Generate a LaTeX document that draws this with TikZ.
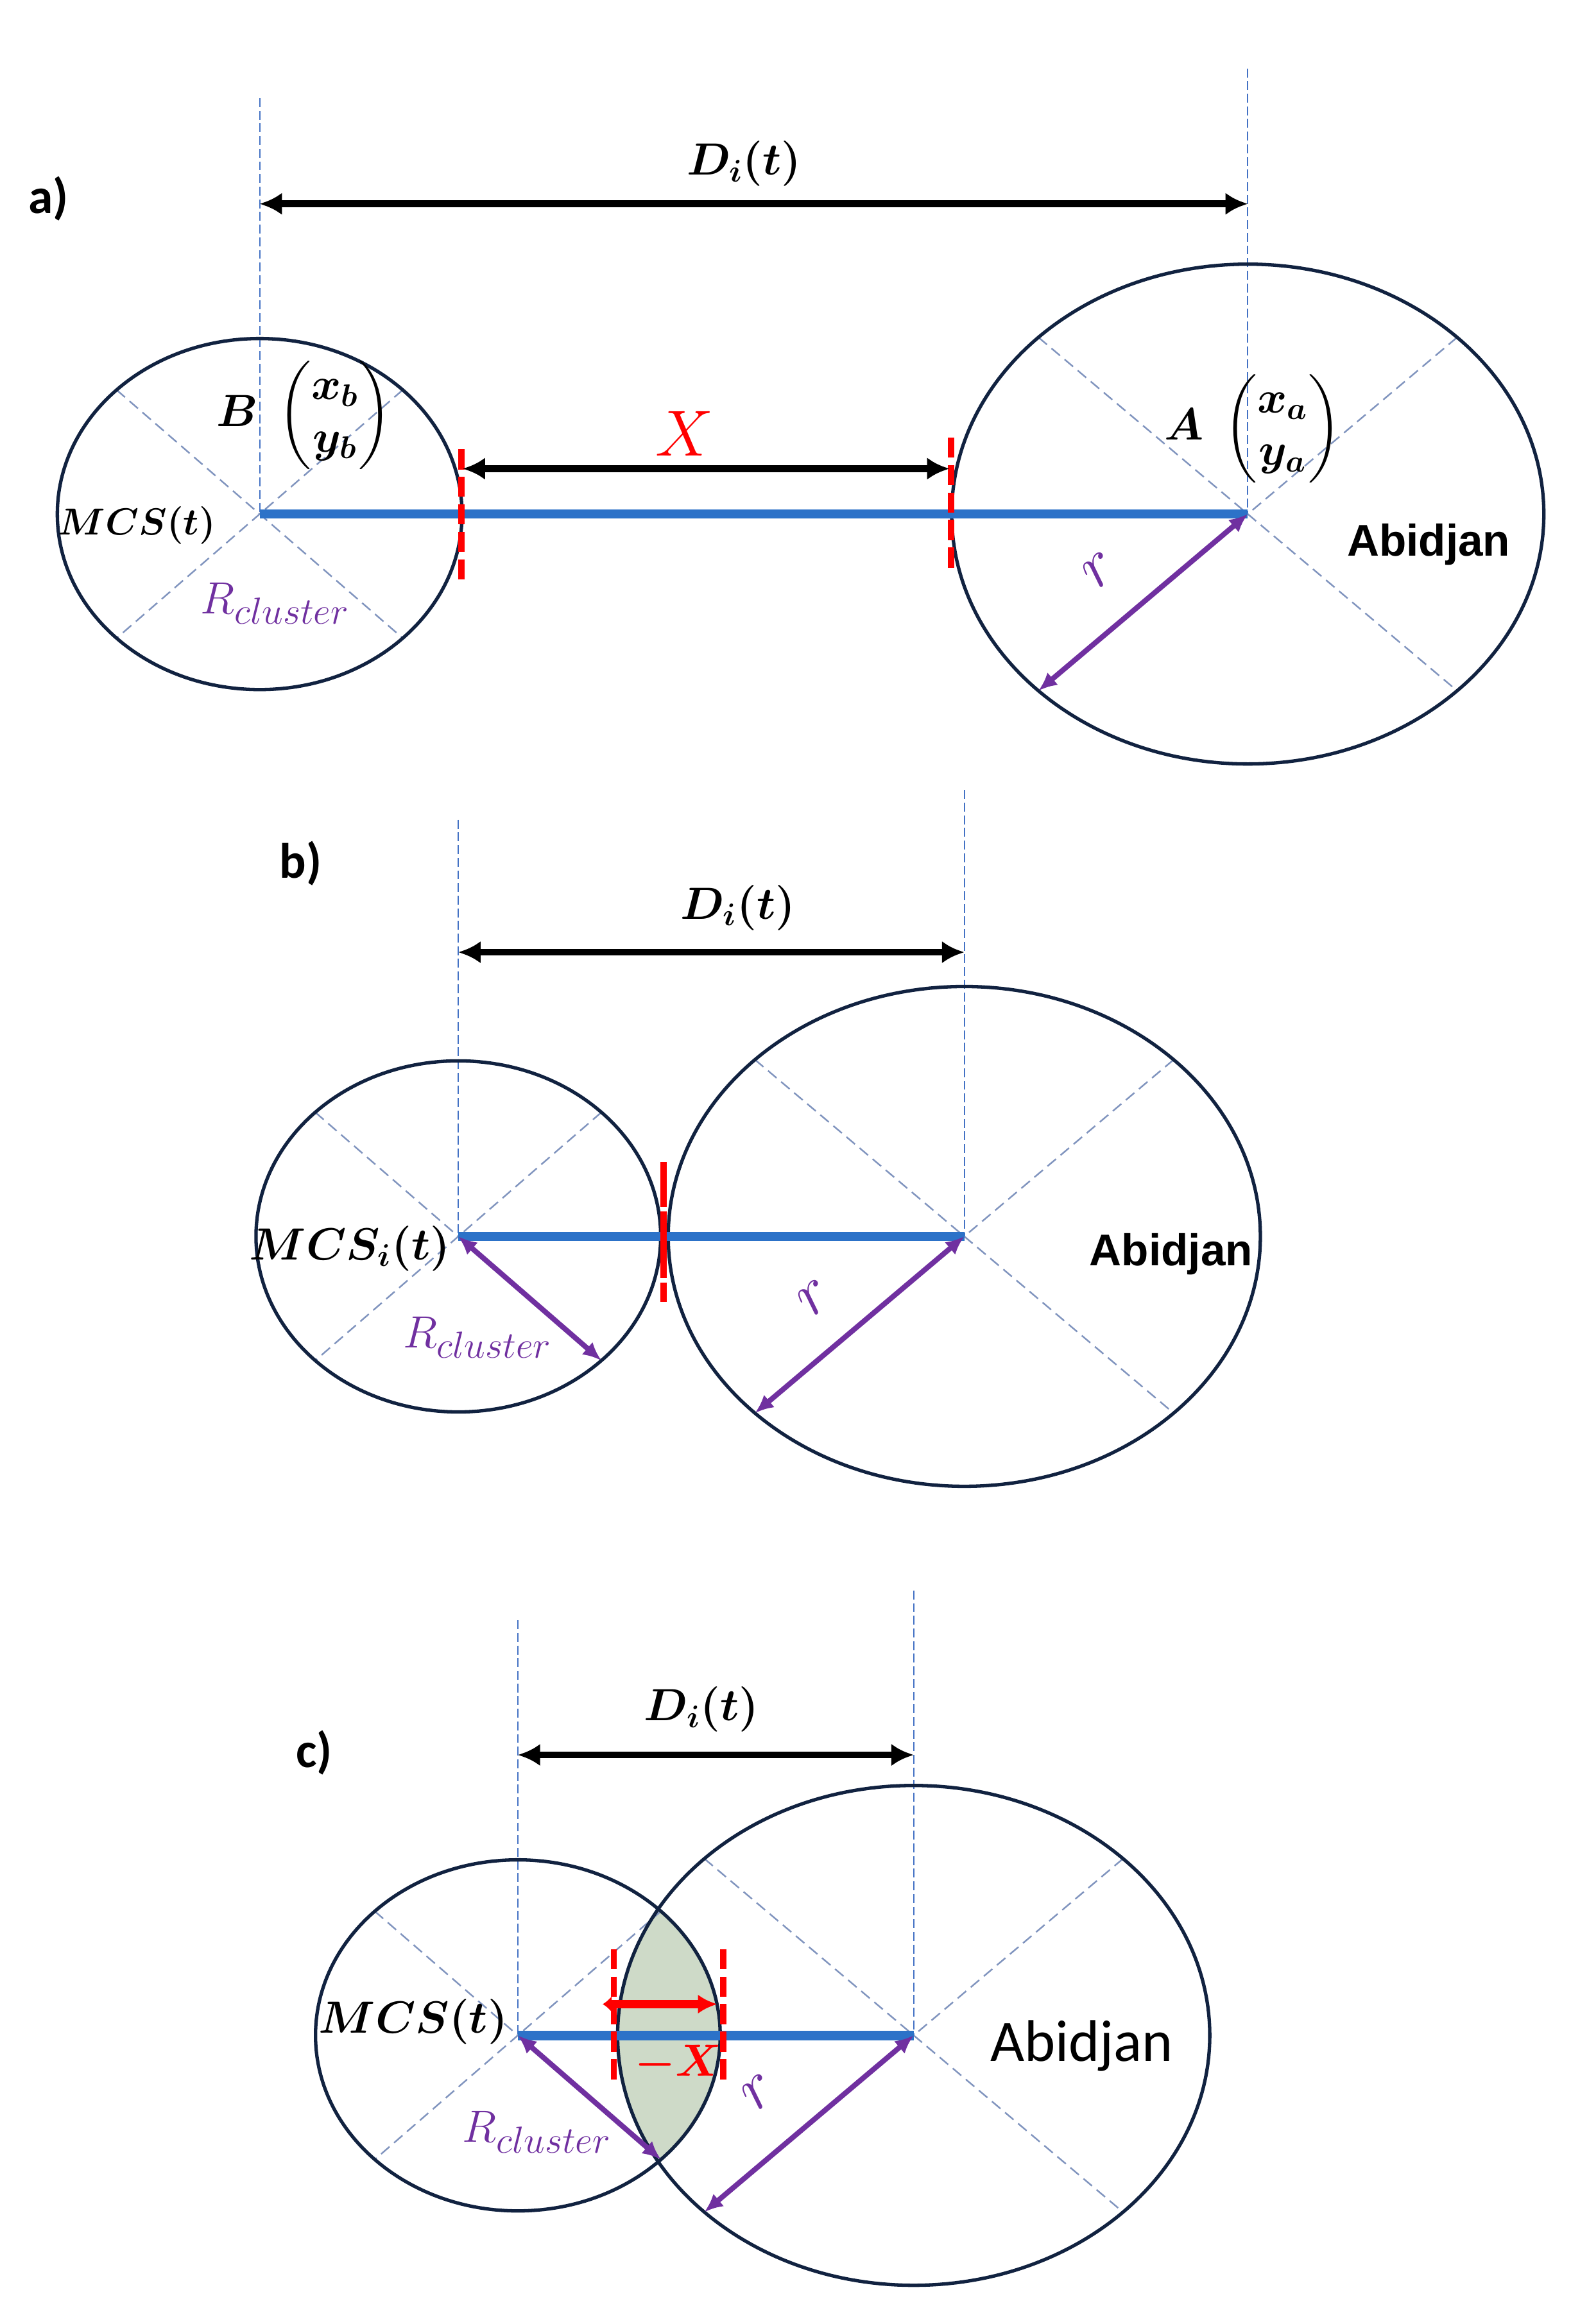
\documentclass[tikz,border=0pt]{standalone}
\usepackage{amsmath}
\usepackage{bm}
\usepackage{fontspec}
\newfontfamily\arialfont{Liberation Sans}
\newfontfamily\calfont{Carlito}
\usetikzlibrary{arrows.meta,calc,shapes.geometric}
\definecolor{ellcol}{RGB}{17,34,64}
\definecolor{diagcol}{RGB}{128,148,190}
\definecolor{vcol}{RGB}{68,114,196}
\definecolor{bluecol}{RGB}{44,114,200}
\definecolor{purp}{RGB}{112,48,160}
\definecolor{lenscol}{RGB}{206,218,200}
\begin{document}
\begin{tikzpicture}[x=0.02cm,y=-0.02cm,
  ell/.style={ellipse, draw=ellcol, line width=1.3pt, inner sep=0pt},
  smallell/.style={ell, minimum width=5.44cm, minimum height=4.72cm},
  largeell/.style={ell, minimum width=7.96cm, minimum height=6.72cm},
  diag/.style={draw=diagcol, line width=0.6pt, dash pattern=on 0.15cm off 0.08cm},
  vref/.style={draw=vcol, line width=0.5pt, dash pattern=on 0.12cm off 0.05cm},
  bluel/.style={draw=bluecol, line width=3.6pt},
  darr/.style={draw=black, line width=2.6pt, {Latex[length=0.3cm,width=0.3cm]}-{Latex[length=0.3cm,width=0.3cm]}},
  parr/.style={draw=purp, line width=2pt, {Latex[length=0.25cm,width=0.22cm]}-{Latex[length=0.25cm,width=0.22cm]}},
  rdash/.style={draw=red, line width=2.4pt, dash pattern=on 0.27cm off 0.1cm},
  rarr/.style={draw=red, line width=3.3pt, {Latex[length=0.12cm,width=0.22cm]}-{Latex[length=0.26cm,width=0.26cm]}},
  lbl/.style={inner sep=0pt, font=\calfont\bfseries\fontsize{19}{22}\selectfont},
  abib/.style={inner sep=0pt, anchor=base, font=\arialfont\bfseries\fontsize{17}{20}\selectfont},
  abir/.style={inner sep=0pt, anchor=base, font=\calfont\fontsize{22.5}{26}\selectfont},
  mth/.style={inner sep=0pt, font=\fontsize{15}{18}\selectfont},
  mtp/.style={inner sep=0pt, font=\fontsize{17}{20}\selectfont},
  mthb/.style={inner sep=0pt, font=\fontsize{16.5}{20}\selectfont},
  rcl/.style={inner sep=0pt, text=purp, font=\fontsize{19}{22}\selectfont},
  rlab/.style={inner sep=0pt, text=purp, rotate=40, font=\fontsize{29}{32}\selectfont}
]
\useasboundingbox (0,0) rectangle (1055.7,1562);

% ================= panel a =================
\coordinate (aL) at (174.5,345.5);
\coordinate (aR) at (838.5,345.5);
\coordinate (aLt) at (174.5,66);
\coordinate (aRt) at (838.5,46);
\draw[vref] (aLt) -- (aL);
\draw[vref] (aRt) -- (aR);
\draw[diag] ($(aL)+(45:2.72cm and 2.36cm)$) -- ($(aL)+(225:2.72cm and 2.36cm)$);
\draw[diag] ($(aL)+(135:2.72cm and 2.36cm)$) -- ($(aL)+(315:2.72cm and 2.36cm)$);
\draw[diag] ($(aR)+(45:3.98cm and 3.36cm)$) -- ($(aR)+(225:3.98cm and 3.36cm)$);
\draw[diag] ($(aR)+(135:3.98cm and 3.36cm)$) -- ($(aR)+(315:3.98cm and 3.36cm)$);
\node[smallell] (aLe) at (aL) {};
\node[largeell] (aRe) at (aR) {};
\draw[bluel] (aL) -- (aR);
\coordinate (aX1t) at (310,302); \coordinate (aX1b) at (310,393);
\coordinate (aX2t) at (639,294); \coordinate (aX2b) at (639,386);
\draw[rdash] (aX1t) -- (aX1b);
\draw[rdash] (aX2t) -- (aX2b);
\coordinate (aXa) at (311,315); \coordinate (aXb) at (638,315);
\draw[darr] (aXa) -- (aXb);
\coordinate (aDa) at (174.5,137); \coordinate (aDb) at (838.5,137);
\draw[darr] (aDa) -- (aDb);
\coordinate (aRp) at ($(aR)+(225:3.98cm and 3.36cm)$);
\draw[parr] (aR) -- (aRp);
\node[lbl] (alab) at (32.7,133.5) {a)};
\node[mthb] (aD) at (500,110) {$\bm{D_i(t)}$};
\node[inner sep=0pt, text=red, font=\fontsize{26}{28}\selectfont] (aXl) at (460,291.5) {$X$};
\node[mtp] (aB) at (204.5,279) {$\bm{B}\;\begin{pmatrix}\bm{x_b}\\ \bm{y_b}\end{pmatrix}$};
\node[mtp] (aA) at (842,288) {$\bm{A}\;\begin{pmatrix}\bm{x_a}\\ \bm{y_a}\end{pmatrix}$};
\node[mth] (aM) at (92,353) {$\bm{MCS(t)}$};
\node[rcl] (aRc) at (185,405.5) {$R_{cluster}$};
\node[rlab] (ar) at (739,383) {$r$};
\node[abib] (aAb) at (960,373.6) {Abidjan};

% ================= panel b =================
\coordinate (bL) at (308,831);
\coordinate (bR) at (648,831);
\coordinate (bLt) at (308,551);
\coordinate (bRt) at (648,531);
\draw[vref] (bLt) -- (bL);
\draw[vref] (bRt) -- (bR);
\draw[diag] ($(bL)+(45:2.72cm and 2.36cm)$) -- ($(bL)+(225:2.72cm and 2.36cm)$);
\draw[diag] ($(bL)+(135:2.72cm and 2.36cm)$) -- ($(bL)+(315:2.72cm and 2.36cm)$);
\draw[diag] ($(bR)+(45:3.98cm and 3.36cm)$) -- ($(bR)+(225:3.98cm and 3.36cm)$);
\draw[diag] ($(bR)+(135:3.98cm and 3.36cm)$) -- ($(bR)+(315:3.98cm and 3.36cm)$);
\node[smallell] (bLe) at (bL) {};
\node[largeell] (bRe) at (bR) {};
\draw[bluel] (bL) -- (bR);
\coordinate (bXt) at (446,781); \coordinate (bXb) at (446,875);
\draw[draw=red, line width=2.4pt, dash pattern=on 0.6cm off 0.06cm on 0.9cm off 0.06cm on 0.5cm] (bXt) -- (bXb);
\coordinate (bDa) at (308,640); \coordinate (bDb) at (648,640);
\draw[darr] (bDa) -- (bDb);
\coordinate (bLp) at ($(bL)+(315:2.72cm and 2.36cm)$);
\coordinate (bRp) at ($(bR)+(225:3.98cm and 3.36cm)$);
\draw[parr] (bL) -- (bLp);
\draw[parr] (bR) -- (bRp);
\node[lbl] (blab) at (202,580.5) {b)};
\node[mthb] (bD) at (496,610) {$\bm{D_i(t)}$};
\node[mthb] (bM) at (235,839) {$\bm{MCS_i(t)}$};
\node[rcl] (bRc) at (321,899) {$R_{cluster}$};
\node[rlab] (br) at (547.5,872) {$r$};
\node[abib] (bAb) at (787,850.6) {Abidjan};

% ================= panel c =================
\coordinate (cL) at (348,1368);
\coordinate (cR) at (614,1368);
\coordinate (cLt) at (348,1089);
\coordinate (cRt) at (614,1069);
\draw[vref] (cLt) -- (cL);
\draw[vref] (cRt) -- (cR);
\begin{scope}
  \clip (cL) ellipse [x radius=2.72cm, y radius=2.36cm];
  \fill[lenscol] (cR) ellipse [x radius=3.98cm, y radius=3.36cm];
\end{scope}
\draw[diag] ($(cL)+(45:2.72cm and 2.36cm)$) -- ($(cL)+(225:2.72cm and 2.36cm)$);
\draw[diag] ($(cL)+(135:2.72cm and 2.36cm)$) -- ($(cL)+(315:2.72cm and 2.36cm)$);
\draw[diag] ($(cR)+(45:3.98cm and 3.36cm)$) -- ($(cR)+(225:3.98cm and 3.36cm)$);
\draw[diag] ($(cR)+(135:3.98cm and 3.36cm)$) -- ($(cR)+(315:3.98cm and 3.36cm)$);
\node[smallell] (cLe) at (cL) {};
\node[largeell] (cRe) at (cR) {};
\draw[bluel] (cL) -- (cR);
\coordinate (cX1t) at (412.5,1310); \coordinate (cX1b) at (412.5,1401);
\coordinate (cX2t) at (486,1310); \coordinate (cX2b) at (486,1401);
\draw[rdash] (cX1t) -- (cX1b);
\draw[rdash] (cX2t) -- (cX2b);
\coordinate (cXa) at (405,1347); \coordinate (cXb) at (482,1347);
\draw[rarr] (cXa) -- (cXb);
\coordinate (cDa) at (348,1179.5); \coordinate (cDb) at (614,1179.5);
\draw[darr] (cDa) -- (cDb);
\coordinate (cLp) at ($(cL)+(315:2.72cm and 2.36cm)$);
\coordinate (cRp) at ($(cR)+(225:3.98cm and 3.36cm)$);
\draw[parr] (cL) -- (cLp);
\draw[parr] (cR) -- (cRp);
\node[lbl] (clab) at (211,1178) {c)};
\node[mthb] (cD) at (471.5,1149) {$\bm{D_i(t)}$};
\node[mthb] (cM) at (277.6,1359) {$\bm{MCS(t)}$};
\node[inner sep=0pt, text=red, font=\fontsize{16}{18}\selectfont] (cXl) at (456,1387) {$\bm{{-}X}$};
\node[rcl] (cRc) at (361,1433) {$R_{cluster}$};
\node[rlab] (cr) at (510,1406) {$r$};
\node[abir] (cAb) at (727,1385.5) {Abidjan};
\end{tikzpicture}
\end{document}
